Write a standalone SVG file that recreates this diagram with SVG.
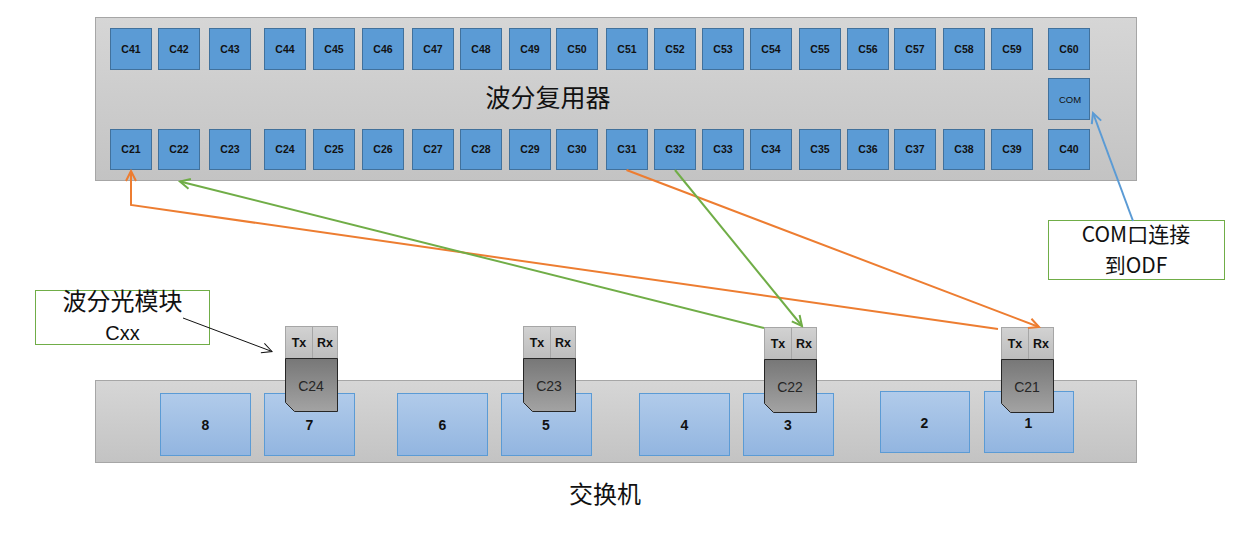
<svg xmlns="http://www.w3.org/2000/svg" width="1235" height="560" viewBox="0 0 1235 560">
<style>
.ch{fill:#5b9bd5;stroke:#41719c;stroke-width:1}
.cl{font-family:"Liberation Sans",Arial,sans-serif;font-size:10.5px;font-weight:bold;fill:#111;text-anchor:middle}
.port{fill:url(#gPort);stroke:#5b9bd5;stroke-width:1}
.pl{font-family:"Liberation Sans",Arial,sans-serif;font-size:14px;font-weight:bold;fill:#111;text-anchor:middle}
.hd{fill:url(#gHead);stroke:#a6a6a6;stroke-width:1}
.body{fill:url(#gBody);stroke:#262626;stroke-width:1}
.tr{font-family:"Liberation Sans",Arial,sans-serif;font-size:12.5px;font-weight:bold;fill:#111;text-anchor:middle}
.ml{font-family:"Liberation Sans",Arial,sans-serif;font-size:14px;fill:#262626;text-anchor:middle}
.cjk{font-family:"Noto Sans CJK SC","Liberation Sans",sans-serif;fill:#111;text-anchor:middle}
.note{fill:#fff;stroke:#70ad47;stroke-width:1}
</style>
<defs>
<linearGradient id="gDev" x1="0" y1="0" x2="0" y2="1"><stop offset="0" stop-color="#d6d6d6"/><stop offset="1" stop-color="#c3c3c3"/></linearGradient>
<linearGradient id="gPort" x1="0" y1="0" x2="0" y2="1"><stop offset="0" stop-color="#b1cbea"/><stop offset="1" stop-color="#92b5e0"/></linearGradient>
<linearGradient id="gHead" x1="0" y1="0" x2="0" y2="1"><stop offset="0" stop-color="#d2d2d2"/><stop offset="1" stop-color="#bdbdbd"/></linearGradient>
<linearGradient id="gBody" x1="0" y1="0" x2="0" y2="1"><stop offset="0" stop-color="#777"/><stop offset="1" stop-color="#a3a3a3"/></linearGradient>
<marker id="aO" markerUnits="userSpaceOnUse" markerWidth="14" markerHeight="14" viewBox="0 0 14 14" refX="12" refY="7" orient="auto"><path d="M2,2 L12,7 L2,12" fill="none" stroke="#ed7d31" stroke-width="2"/></marker>
<marker id="aG" markerUnits="userSpaceOnUse" markerWidth="14" markerHeight="14" viewBox="0 0 14 14" refX="12" refY="7" orient="auto"><path d="M2,2 L12,7 L2,12" fill="none" stroke="#70ad47" stroke-width="2"/></marker>
<marker id="aB" markerUnits="userSpaceOnUse" markerWidth="14" markerHeight="14" viewBox="0 0 14 14" refX="12" refY="7" orient="auto"><path d="M2,2 L12,7 L2,12" fill="none" stroke="#5b9bd5" stroke-width="2"/></marker>
<marker id="aK" markerUnits="userSpaceOnUse" markerWidth="14" markerHeight="14" viewBox="0 0 14 14" refX="12" refY="7" orient="auto"><path d="M2,2 L12,7 L2,12" fill="none" stroke="#111" stroke-width="1"/></marker>
</defs>

<g id="mux">
<rect x="95.5" y="17.5" width="1041" height="163" fill="url(#gDev)" stroke="#a6a6a6"/>
<text class="cjk" x="548" y="107" font-size="25">波分复用器</text>
</g>

<g id="mux-top">
<g id="C41"><rect class="ch" x="110.5" y="28.5" width="41" height="41"/><text class="cl" x="131" y="52.5">C41</text></g>
<g id="C42"><rect class="ch" x="158.5" y="28.5" width="41" height="41"/><text class="cl" x="179" y="52.5">C42</text></g>
<g id="C43"><rect class="ch" x="209.5" y="28.5" width="41" height="41"/><text class="cl" x="230" y="52.5">C43</text></g>
<g id="C44"><rect class="ch" x="264.5" y="28.5" width="41" height="41"/><text class="cl" x="285" y="52.5">C44</text></g>
<g id="C45"><rect class="ch" x="313.5" y="28.5" width="41" height="41"/><text class="cl" x="334" y="52.5">C45</text></g>
<g id="C46"><rect class="ch" x="362.5" y="28.5" width="41" height="41"/><text class="cl" x="383" y="52.5">C46</text></g>
<g id="C47"><rect class="ch" x="412.5" y="28.5" width="41" height="41"/><text class="cl" x="433" y="52.5">C47</text></g>
<g id="C48"><rect class="ch" x="460.5" y="28.5" width="41" height="41"/><text class="cl" x="481" y="52.5">C48</text></g>
<g id="C49"><rect class="ch" x="509.5" y="28.5" width="41" height="41"/><text class="cl" x="530" y="52.5">C49</text></g>
<g id="C50"><rect class="ch" x="556.5" y="28.5" width="41" height="41"/><text class="cl" x="577" y="52.5">C50</text></g>
<g id="C51"><rect class="ch" x="606.5" y="28.5" width="41" height="41"/><text class="cl" x="627" y="52.5">C51</text></g>
<g id="C52"><rect class="ch" x="654.5" y="28.5" width="41" height="41"/><text class="cl" x="675" y="52.5">C52</text></g>
<g id="C53"><rect class="ch" x="702.5" y="28.5" width="41" height="41"/><text class="cl" x="723" y="52.5">C53</text></g>
<g id="C54"><rect class="ch" x="750.5" y="28.5" width="41" height="41"/><text class="cl" x="771" y="52.5">C54</text></g>
<g id="C55"><rect class="ch" x="799.5" y="28.5" width="41" height="41"/><text class="cl" x="820" y="52.5">C55</text></g>
<g id="C56"><rect class="ch" x="847.5" y="28.5" width="41" height="41"/><text class="cl" x="868" y="52.5">C56</text></g>
<g id="C57"><rect class="ch" x="894.5" y="28.5" width="41" height="41"/><text class="cl" x="915" y="52.5">C57</text></g>
<g id="C58"><rect class="ch" x="943.5" y="28.5" width="41" height="41"/><text class="cl" x="964" y="52.5">C58</text></g>
<g id="C59"><rect class="ch" x="991.5" y="28.5" width="41" height="41"/><text class="cl" x="1012" y="52.5">C59</text></g>
<g id="C60"><rect class="ch" x="1048.5" y="28.5" width="41" height="41"/><text class="cl" x="1069" y="52.5">C60</text></g>
<g id="COM"><rect class="ch" x="1048.5" y="78.5" width="41" height="41"/><text x="1070" y="102.5" font-family="Liberation Sans,Arial,sans-serif" font-size="9.5" fill="#111" text-anchor="middle">COM</text></g>
</g>

<g id="mux-bottom">
<g id="C21"><rect class="ch" x="110.5" y="129.5" width="41" height="40"/><text class="cl" x="131" y="153">C21</text></g>
<g id="C22"><rect class="ch" x="158.5" y="129.5" width="41" height="40"/><text class="cl" x="179" y="153">C22</text></g>
<g id="C23"><rect class="ch" x="209.5" y="129.5" width="41" height="40"/><text class="cl" x="230" y="153">C23</text></g>
<g id="C24"><rect class="ch" x="264.5" y="129.5" width="41" height="40"/><text class="cl" x="285" y="153">C24</text></g>
<g id="C25"><rect class="ch" x="313.5" y="129.5" width="41" height="40"/><text class="cl" x="334" y="153">C25</text></g>
<g id="C26"><rect class="ch" x="362.5" y="129.5" width="41" height="40"/><text class="cl" x="383" y="153">C26</text></g>
<g id="C27"><rect class="ch" x="412.5" y="129.5" width="41" height="40"/><text class="cl" x="433" y="153">C27</text></g>
<g id="C28"><rect class="ch" x="460.5" y="129.5" width="41" height="40"/><text class="cl" x="481" y="153">C28</text></g>
<g id="C29"><rect class="ch" x="509.5" y="129.5" width="41" height="40"/><text class="cl" x="530" y="153">C29</text></g>
<g id="C30"><rect class="ch" x="556.5" y="129.5" width="41" height="40"/><text class="cl" x="577" y="153">C30</text></g>
<g id="C31"><rect class="ch" x="606.5" y="129.5" width="41" height="40"/><text class="cl" x="627" y="153">C31</text></g>
<g id="C32"><rect class="ch" x="654.5" y="129.5" width="41" height="40"/><text class="cl" x="675" y="153">C32</text></g>
<g id="C33"><rect class="ch" x="702.5" y="129.5" width="41" height="40"/><text class="cl" x="723" y="153">C33</text></g>
<g id="C34"><rect class="ch" x="750.5" y="129.5" width="41" height="40"/><text class="cl" x="771" y="153">C34</text></g>
<g id="C35"><rect class="ch" x="799.5" y="129.5" width="41" height="40"/><text class="cl" x="820" y="153">C35</text></g>
<g id="C36"><rect class="ch" x="847.5" y="129.5" width="41" height="40"/><text class="cl" x="868" y="153">C36</text></g>
<g id="C37"><rect class="ch" x="894.5" y="129.5" width="41" height="40"/><text class="cl" x="915" y="153">C37</text></g>
<g id="C38"><rect class="ch" x="943.5" y="129.5" width="41" height="40"/><text class="cl" x="964" y="153">C38</text></g>
<g id="C39"><rect class="ch" x="991.5" y="129.5" width="41" height="40"/><text class="cl" x="1012" y="153">C39</text></g>
<g id="C40"><rect class="ch" x="1048.5" y="129.5" width="41" height="40"/><text class="cl" x="1069" y="153">C40</text></g>
</g>

<g id="switch">
<rect x="95.5" y="380.5" width="1041" height="82" fill="url(#gDev)" stroke="#a6a6a6"/>
<g id="port8"><rect class="port" x="160.5" y="393.5" width="90" height="62"/><text class="pl" x="205.5" y="430">8</text></g>
<g id="port7"><rect class="port" x="264.5" y="393.5" width="90" height="62"/><text class="pl" x="309.5" y="430">7</text></g>
<g id="port6"><rect class="port" x="397.5" y="393.5" width="90" height="62"/><text class="pl" x="442.5" y="430">6</text></g>
<g id="port5"><rect class="port" x="501.5" y="393.5" width="90" height="62"/><text class="pl" x="546" y="430">5</text></g>
<g id="port4"><rect class="port" x="639.5" y="393.5" width="90" height="62"/><text class="pl" x="684.5" y="430">4</text></g>
<g id="port3"><rect class="port" x="743.5" y="393.5" width="90" height="62"/><text class="pl" x="788" y="430">3</text></g>
<g id="port2"><rect class="port" x="880.5" y="391.5" width="89" height="61"/><text class="pl" x="924.5" y="428">2</text></g>
<g id="port1"><rect class="port" x="984.5" y="391.5" width="89" height="61"/><text class="pl" x="1028.5" y="428">1</text></g>
<text class="cjk" x="605" y="503" font-size="24">交换机</text>
</g>

<g id="mod-C24">
<rect class="hd" x="285.5" y="326.5" width="52" height="32"/><line x1="312.5" y1="326.5" x2="312.5" y2="358.5" stroke="#a6a6a6"/>
<text class="tr" x="299" y="347">Tx</text><text class="tr" x="325" y="347">Rx</text>
<path class="body" d="M285.5,358.5 H337.5 V411.5 H294.5 L285.5,402.5 Z"/>
<text class="ml" x="311" y="391">C24</text>
</g>
<g id="mod-C23">
<rect class="hd" x="523.5" y="326.5" width="52" height="32"/><line x1="550.5" y1="326.5" x2="550.5" y2="358.5" stroke="#a6a6a6"/>
<text class="tr" x="537" y="347">Tx</text><text class="tr" x="563" y="347">Rx</text>
<path class="body" d="M523.5,358.5 H575.5 V411.5 H532.5 L523.5,402.5 Z"/>
<text class="ml" x="549" y="391">C23</text>
</g>
<g id="mod-C22">
<rect class="hd" x="764.5" y="327.5" width="52" height="32"/><line x1="791.5" y1="327.5" x2="791.5" y2="359.5" stroke="#a6a6a6"/>
<text class="tr" x="778" y="348">Tx</text><text class="tr" x="804" y="348">Rx</text>
<path class="body" d="M764.5,359.5 H816.5 V412.5 H773.5 L764.5,403.5 Z"/>
<text class="ml" x="790" y="392">C22</text>
</g>
<g id="mod-C21">
<rect class="hd" x="1001.5" y="327.5" width="52" height="32"/><line x1="1028.5" y1="327.5" x2="1028.5" y2="359.5" stroke="#a6a6a6"/>
<text class="tr" x="1015" y="348">Tx</text><text class="tr" x="1041" y="348">Rx</text>
<path class="body" d="M1001.5,359.5 H1053.5 V412.5 H1010.5 L1001.5,403.5 Z"/>
<text class="ml" x="1027" y="392">C21</text>
</g>

<g id="label-module">
<rect class="note" x="35.5" y="290.5" width="174" height="54"/>
<text class="cjk" x="122.5" y="310" font-size="24">波分光模块</text>
<text x="122.5" y="340" font-family="Liberation Sans,Arial,sans-serif" font-size="20" fill="#111" text-anchor="middle">Cxx</text>
</g>

<g id="label-com">
<rect class="note" x="1048.5" y="220.5" width="176" height="59"/>
<text class="cjk" x="1136" y="242" font-size="21">COM口连接</text>
<text class="cjk" x="1136" y="273" font-size="21">到ODF</text>
</g>

<g id="connectors" fill="none" stroke-width="2">
<path d="M626.5,170 L1039,327" stroke="#ed7d31" marker-end="url(#aO)"/>
<path d="M998,329 L131,205 L131,171" stroke="#ed7d31" marker-end="url(#aO)"/>
<path d="M675,170 L802,326" stroke="#70ad47" marker-end="url(#aG)"/>
<path d="M764,328 L180,181.5" stroke="#70ad47" marker-end="url(#aG)"/>
<path d="M1133,221 L1093,113" stroke="#5b9bd5" marker-end="url(#aB)"/>
<path d="M183,318 L272,351.5" stroke="#111" stroke-width="1" marker-end="url(#aK)"/>
</g>
</svg>
